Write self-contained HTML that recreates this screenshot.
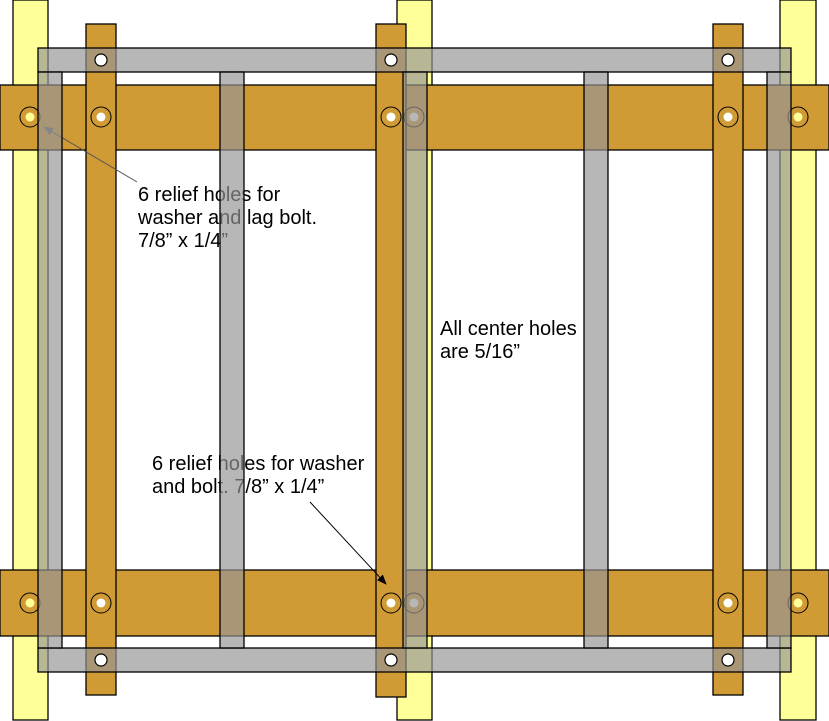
<!DOCTYPE html>
<html><head><style>body{margin:0;background:#fff}svg{display:block}</style></head><body>
<svg width="829" height="721" xmlns="http://www.w3.org/2000/svg" font-family="Liberation Sans, sans-serif">
<defs>
<marker id="ag" markerWidth="10" markerHeight="8" refX="9" refY="4" orient="auto" markerUnits="userSpaceOnUse"><path d="M0,0L10,4L0,8z" fill="#666"/></marker>
<marker id="ab" markerWidth="10" markerHeight="8" refX="9" refY="4" orient="auto" markerUnits="userSpaceOnUse"><path d="M0,0L10,4L0,8z" fill="#000"/></marker>
</defs>
<g stroke="#000" stroke-width="1.3">
<rect x="13" y="0" width="35" height="720" fill="#ffff99"/>
<rect x="397" y="0" width="35" height="720" fill="#ffff99"/>
<rect x="780" y="0" width="36" height="720" fill="#ffff99"/>
<rect x="0" y="85" width="829" height="65" fill="#d09a35"/>
<rect x="0" y="570" width="829" height="66" fill="#d09a35"/>
<rect x="86" y="24" width="30" height="671" fill="#d09a35"/>
<rect x="376" y="24" width="30" height="673" fill="#d09a35"/>
<rect x="713" y="24" width="30" height="671" fill="#d09a35"/>
</g>
<g stroke="#000" stroke-width="1">
<circle cx="30" cy="117" r="10" fill="none"/><circle cx="30" cy="117" r="4.5" fill="#ffff99" stroke="none"/>
<circle cx="101" cy="117" r="10" fill="none"/><circle cx="101" cy="117" r="4.5" fill="#fff" stroke="none"/>
<circle cx="391" cy="117" r="10" fill="none"/><circle cx="391" cy="117" r="4.5" fill="#fff" stroke="none"/>
<circle cx="414" cy="117" r="10" fill="none"/><circle cx="414" cy="117" r="4.5" fill="#fff" stroke="none"/>
<circle cx="728" cy="117" r="10" fill="none"/><circle cx="728" cy="117" r="4.5" fill="#fff" stroke="none"/>
<circle cx="798" cy="117" r="10" fill="none"/><circle cx="798" cy="117" r="4.5" fill="#ffff99" stroke="none"/>
<circle cx="30" cy="603" r="10" fill="none"/><circle cx="30" cy="603" r="4.5" fill="#ffff99" stroke="none"/>
<circle cx="101" cy="603" r="10" fill="none"/><circle cx="101" cy="603" r="4.5" fill="#fff" stroke="none"/>
<circle cx="391" cy="603" r="10" fill="none"/><circle cx="391" cy="603" r="4.5" fill="#fff" stroke="none"/>
<circle cx="414" cy="603" r="10" fill="none"/><circle cx="414" cy="603" r="4.5" fill="#fff" stroke="none"/>
<circle cx="728" cy="603" r="10" fill="none"/><circle cx="728" cy="603" r="4.5" fill="#fff" stroke="none"/>
<circle cx="798" cy="603" r="10" fill="none"/><circle cx="798" cy="603" r="4.5" fill="#ffff99" stroke="none"/>
</g>
<g font-size="20" fill="#000">
<text x="138" y="201">6 relief holes for</text>
<text x="138" y="224">washer and lag bolt.</text>
<text x="138" y="247">7/8” x 1/4”</text>
<text x="440" y="335">All center holes</text>
<text x="440" y="358">are 5/16”</text>
<text x="152" y="470">6 relief holes for washer</text>
<text x="152" y="493">and bolt. 7/8” x 1/4”</text>
</g>
<line x1="137" y1="182" x2="44" y2="127" stroke="#555" stroke-width="1" marker-end="url(#ag)"/>
<line x1="310" y1="502" x2="386" y2="584" stroke="#000" stroke-width="1" marker-end="url(#ab)"/>
<g fill="rgba(149,149,149,0.68)" stroke="#000" stroke-width="1.3">
<rect x="38" y="48" width="753" height="24"/>
<rect x="38" y="648" width="753" height="24"/>
<rect x="38" y="72" width="24" height="576"/>
<rect x="220" y="72" width="24" height="576"/>
<rect x="403" y="72" width="24" height="576"/>
<rect x="584" y="72" width="24" height="576"/>
<rect x="767" y="72" width="24" height="576"/>
</g>
<g stroke="#000" stroke-width="1.2">
<circle cx="101" cy="60" r="6" fill="#fff"/><circle cx="391" cy="60" r="6" fill="#fff"/><circle cx="728" cy="60" r="6" fill="#fff"/>
<circle cx="101" cy="660" r="6" fill="#fff"/><circle cx="391" cy="660" r="6" fill="#fff"/><circle cx="728" cy="660" r="6" fill="#fff"/>
</g>
</svg>
</body></html>
